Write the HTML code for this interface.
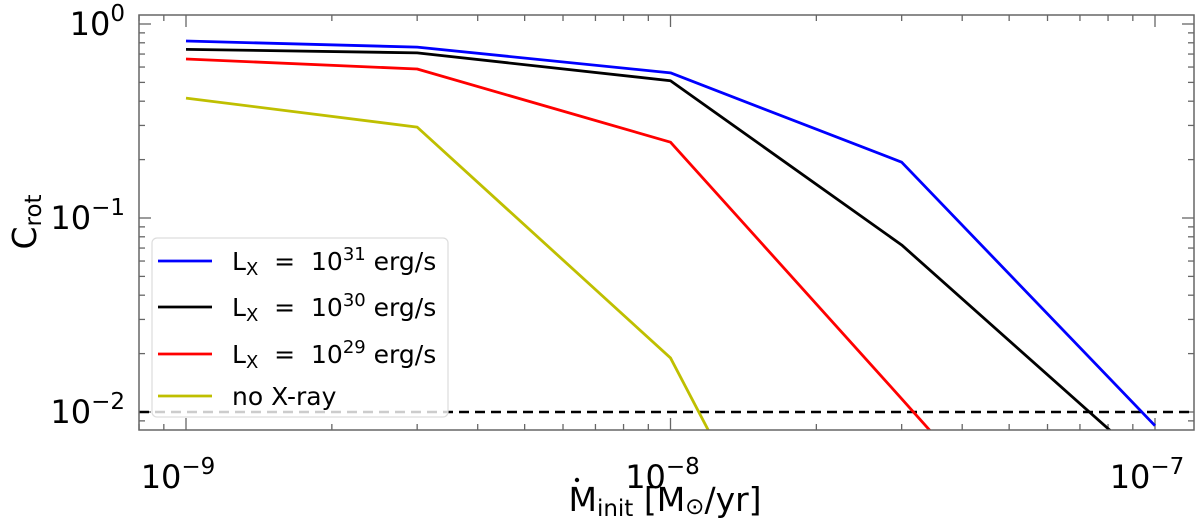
<!DOCTYPE html>
<html><head><meta charset="utf-8"><style>
html,body{margin:0;padding:0;background:#fff;overflow:hidden;}
svg{display:block;font-family:"DejaVu Sans","Liberation Sans",sans-serif;}
text{white-space:pre;}
</style></head><body>
<svg id="chart" width="1200" height="530" viewBox="0 0 1200 530"></svg>
<script>
const xValues=[1e-9,3e-9,1e-8,3e-8,1e-7];
const seriesLx31=[0.817,0.76,0.56,0.194,0.0085];
const seriesLx30=[0.74,0.71,0.51,0.0726,0.005];
const seriesLx29=[0.66,0.586,0.246,0.0117,0.0004];
const seriesNoX=[0.415,0.294,0.019,0.0001,0.00001];
const threshold=0.01;
const xTickExps=[-9,-8,-7];
const yTickExps=[0,-1,-2];
const legendLabels=["31","30","29"];

const NS="http://www.w3.org/2000/svg";
const svg=document.getElementById('chart');
const L=139,R=1194,T=15,B=430;
const X=v=>186+(Math.log10(v)+9)*484.5;
const Y=v=>24-Math.log10(v)*194;
function mk(tag,attrs,parent){const e=document.createElementNS(NS,tag);for(const k in attrs)e.setAttribute(k,attrs[k]);(parent||svg).appendChild(e);return e;}

const defs=mk('defs',{});
const cp=mk('clipPath',{id:'clip'},defs);
mk('rect',{x:L,y:T,width:R-L,height:B-T},cp);

const tg=mk('g',{stroke:'#666','stroke-width':1.3});


for(let e=-10;e<=-7;e++){for(let m=1;m<10;m++){const v=m*Math.pow(10,e);const x=X(v);if(x<L||x>R)continue;const len=m===1?12:6;
mk('line',{x1:x,x2:x,y1:B,y2:B-len},tg);mk('line',{x1:x,x2:x,y1:T,y2:T+len},tg);}}
for(let e=-3;e<=0;e++){for(let m=1;m<10;m++){const v=m*Math.pow(10,e);const y=Y(v);if(y<T||y>B)continue;const len=m===1?12:6;
mk('line',{x1:L,x2:L+len,y1:y,y2:y},tg);mk('line',{x1:R,x2:R-len,y1:y,y2:y},tg);}}

const th=mk('line',{x1:L,x2:R,y1:Y(threshold),y2:Y(threshold),stroke:'#000','stroke-width':2.5,'stroke-dasharray':'10,6'});



const series=[[seriesNoX,'#bfbf00','series-no-xray'],[seriesLx29,'#ff0000','series-lx-1e29'],[seriesLx30,'#000000','series-lx-1e30'],[seriesLx31,'#0000ff','series-lx-1e31']];
series.forEach(s=>{const p=mk('polyline',{points:xValues.map((x,i)=>X(x)+','+Y(s[0][i])).join(' '),fill:'none',stroke:s[1],'stroke-width':2.8,'clip-path':'url(#clip)','stroke-linejoin':'round'});

});

const fr=mk('rect',{x:L,y:T,width:R-L,height:B-T,fill:'none',stroke:'#666','stroke-width':1.5});



xTickExps.forEach(e=>{const t=mk('text',{x:X(Math.pow(10,e))-8,y:488,'font-size':32,'text-anchor':'middle'});


t.innerHTML='10<tspan dy="-14" font-size="23">−'+(-e)+'</tspan>';});
yTickExps.forEach(e=>{const t=mk('text',{x:125,y:Y(Math.pow(10,e))+11,'font-size':32,'text-anchor':'end'});


t.innerHTML='10<tspan dy="-14" font-size="23">'+(e===0?'0':'−'+(-e))+'</tspan>';});

const yt=mk('text',{transform:'translate(36,222) rotate(-90)','font-size':33,'text-anchor':'middle'});


yt.innerHTML='C<tspan font-size="23" dy="5">rot</tspan>';
const xt=mk('text',{x:665,y:511,'font-size':33,'text-anchor':'middle'});


xt.innerHTML='M<tspan font-size="23" dy="5">init</tspan><tspan dy="-5"> [M</tspan><tspan font-size="23" dy="3">⊙</tspan><tspan dy="-3">/yr]</tspan>';
mk('circle',{cx:577,cy:480,r:2.2,fill:'#000'});

const lg=mk('g',{});


mk('rect',{x:152,y:238,width:296,height:179,rx:5,fill:'#fff','fill-opacity':0.8,stroke:'#ddd','stroke-width':1.2},lg);
const ent=[['#0000ff',261,0],['#000000',307,1],['#ff0000',354,2],['#bfbf00',396,-1]];
ent.forEach(en=>{const g=mk('g',{},lg);


mk('line',{x1:158,x2:212,y1:en[1],y2:en[1],stroke:en[0],'stroke-width':2.8},g);
const t=mk('text',{x:232,y:en[1]+9,'font-size':25},g);
if(en[2]>=0)t.innerHTML='L<tspan font-size="18" dy="5">X</tspan><tspan dy="-5">  =  10</tspan><tspan font-size="18" dy="-10">'+legendLabels[en[2]]+'</tspan><tspan dy="10"> erg/s</tspan>';
else t.textContent='no X-ray';});
</script>
</body></html>
